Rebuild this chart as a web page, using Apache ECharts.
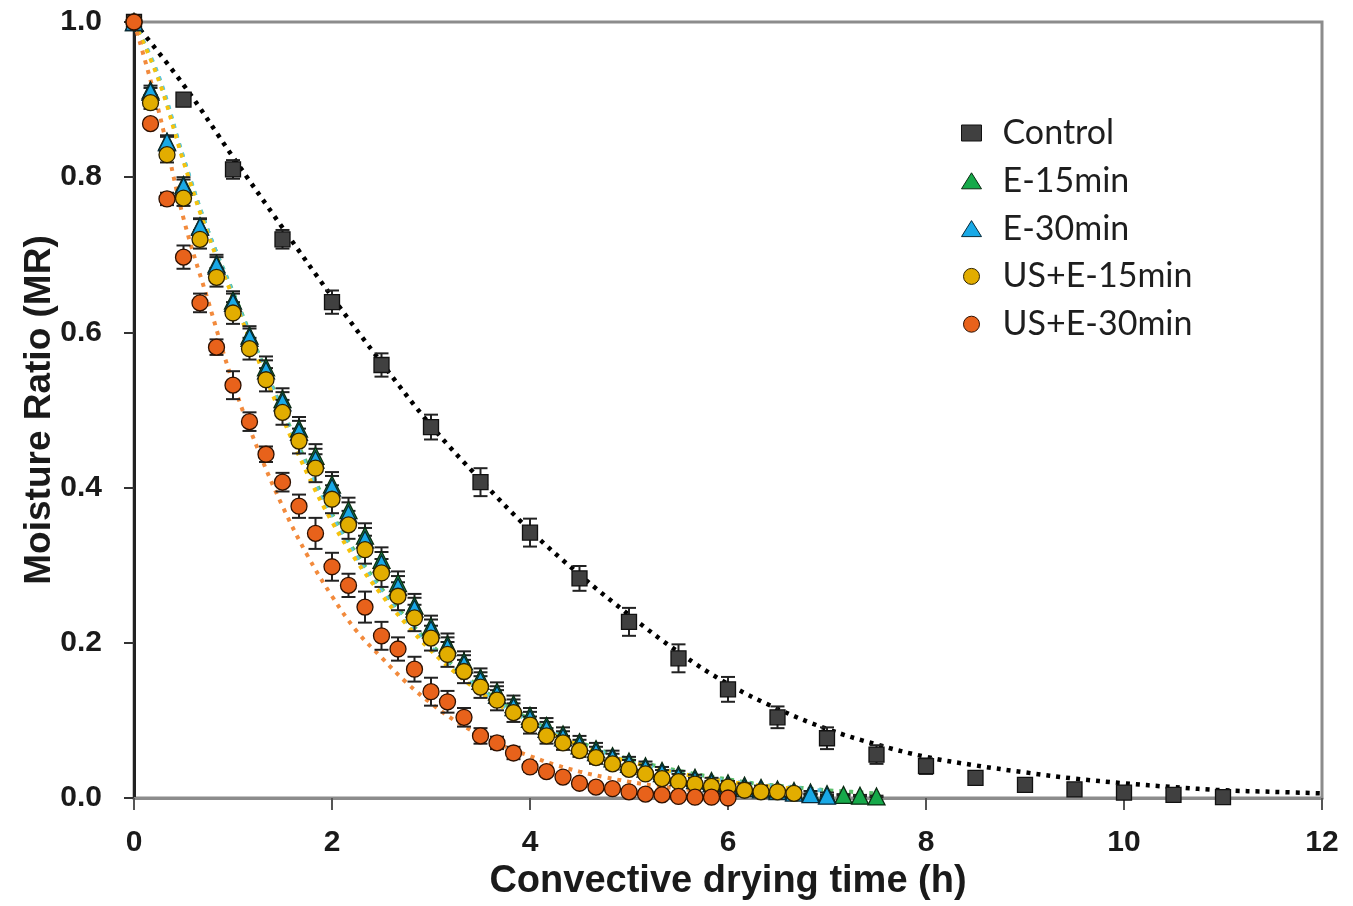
<!DOCTYPE html>
<html>
<head>
<meta charset="utf-8">
<script src="https://cdn.jsdelivr.net/npm/echarts@6/dist/echarts.min.js"></script>
<style>
html,body{margin:0;padding:0;background:#fff;}
#chart{width:1353px;height:906px;}
</style>
</head>
<body>
<div id="chart"></div>
<script>
// ---------- DATA ----------
const seriesNames = ['Control', 'E-15min', 'E-30min', 'US+E-15min', 'US+E-30min'];

// sampling schedule (minutes) for the pretreated samples
const sampleMinutes = [0,10,20,30,40,50,60,70,80,90,100,110,120,130,140,150,160,170,180,190,200,210,220,230,240,250,260,270,280,290,300,310,320,330,340,350,360,370,380,390,400,410,420,430,440,450];

// Control (hours, MR, error)
const controlTimes = [0,0.5,1,1.5,2,2.5,3,3.5,4,4.5,5,5.5,6,6.5,7,7.5,8,8.5,9,9.5,10,10.5,11];
const controlMR = [1.0,0.90,0.81,0.72,0.639,0.558,0.478,0.407,0.342,0.283,0.227,0.180,0.140,0.104,0.077,0.056,0.041,0.026,0.017,0.011,0.007,0.004,0.001];
const controlErr = [0,0.008,0.012,0.012,0.015,0.015,0.016,0.018,0.018,0.016,0.018,0.018,0.016,0.014,0.014,0.012,0.010,0.008,0.007,0.006,0.005,0.004,0.003];

const e15MR = [1.0,0.912,0.846,0.790,0.737,0.688,0.641,0.596,0.555,0.514,0.476,0.441,0.404,0.371,0.338,0.307,0.277,0.248,0.221,0.198,0.176,0.155,0.137,0.121,0.106,0.093,0.082,0.072,0.063,0.054,0.047,0.041,0.035,0.030,0.026,0.022,0.019,0.016,0.013,0.011,0.009,0.007,0.005,0.004,0.003,0.002];
const e15Err = [0,0.006,0.008,0.010,0.010,0.012,0.012,0.012,0.014,0.014,0.015,0.015,0.016,0.016,0.016,0.016,0.015,0.015,0.014,0.014,0.013,0.012,0.012,0.011,0.010,0.010,0.009,0.008,0.008,0.007,0.006,0.006,0.005,0.005,0.004,0.004,0.003,0.003,0.003,0.002,0.002,0.002,0.002,0.001,0.001,0.001];

const e30MR = [1.0,0.910,0.845,0.788,0.736,0.686,0.638,0.593,0.551,0.510,0.472,0.436,0.400,0.366,0.333,0.302,0.272,0.244,0.217,0.194,0.172,0.151,0.133,0.117,0.102,0.089,0.078,0.068,0.059,0.051,0.044,0.038,0.032,0.027,0.023,0.019,0.016,0.013,0.011,0.009,0.007,0.005,0.003];
const e30Err = [0,0.005,0.007,0.009,0.010,0.011,0.012,0.012,0.013,0.013,0.014,0.014,0.015,0.015,0.015,0.015,0.014,0.014,0.013,0.013,0.012,0.011,0.011,0.010,0.009,0.009,0.008,0.007,0.007,0.006,0.005,0.005,0.004,0.004,0.003,0.003,0.003,0.002,0.002,0.002,0.001,0.001,0.001];

const us15MR = [1.0,0.896,0.829,0.773,0.720,0.671,0.625,0.579,0.539,0.497,0.460,0.425,0.385,0.352,0.320,0.290,0.260,0.232,0.206,0.185,0.163,0.143,0.126,0.110,0.094,0.080,0.071,0.061,0.052,0.044,0.037,0.031,0.025,0.021,0.018,0.015,0.014,0.010,0.008,0.008,0.006];
const us15Err = [0,0.008,0.010,0.010,0.012,0.012,0.014,0.014,0.015,0.016,0.016,0.018,0.018,0.018,0.018,0.018,0.018,0.017,0.016,0.016,0.015,0.014,0.013,0.012,0.011,0.010,0.009,0.008,0.008,0.007,0.006,0.005,0.005,0.004,0.004,0.003,0.003,0.002,0.002,0.002,0.001];

const us30MR = [1.0,0.869,0.772,0.697,0.638,0.581,0.532,0.485,0.443,0.407,0.376,0.341,0.298,0.274,0.246,0.209,0.192,0.166,0.137,0.124,0.104,0.080,0.071,0.058,0.040,0.034,0.027,0.019,0.014,0.012,0.008,0.005,0.004,0.002,0.001,0.001,0.000];
const us30Err = [0,0.005,0.008,0.015,0.012,0.010,0.018,0.012,0.010,0.012,0.015,0.020,0.018,0.015,0.020,0.018,0.015,0.016,0.018,0.014,0.012,0.010,0.008,0.008,0.006,0.005,0.004,0.004,0.003,0.003,0.002,0.002,0.001,0.001,0.001,0.001,0];

// fitted model curves (dotted trend lines)
const controlFitTimes = [0,0.5,1,1.5,2,2.5,3,3.5,4,4.5,5,5.5,6,6.5,7,7.5,8,8.5,9,9.5,10,10.5,11,11.5,12];
const controlFit = [1.0,0.919,0.826,0.735,0.646,0.561,0.480,0.410,0.345,0.288,0.236,0.188,0.147,0.115,0.089,0.069,0.053,0.042,0.033,0.025,0.019,0.014,0.010,0.008,0.006];

const fitTimes = [0,0.25,0.5,0.75,1,1.25,1.5,1.75,2,2.25,2.5,2.75,3,3.25,3.5,3.75,4,4.25,4.5,4.75,5,5.25,5.5,5.75,6,6.25,6.5,6.75,7,7.25,7.5];
const e15Fit = [1.0,0.928,0.824,0.730,0.652,0.575,0.500,0.430,0.366,0.314,0.270,0.232,0.198,0.168,0.142,0.120,0.101,0.085,0.072,0.060,0.050,0.042,0.035,0.029,0.024,0.019,0.016,0.013,0.010,0.008,0.006];
const e30Fit = [1.0,0.930,0.825,0.730,0.650,0.572,0.497,0.425,0.362,0.310,0.266,0.228,0.194,0.165,0.139,0.117,0.099,0.083,0.070,0.058,0.048,0.040,0.033,0.027,0.022,0.018,0.015,0.012,0.009];
const us15Fit = [1.0,0.925,0.820,0.725,0.645,0.566,0.490,0.418,0.356,0.305,0.262,0.224,0.190,0.161,0.136,0.115,0.097,0.081,0.068,0.056,0.047,0.039,0.032,0.026,0.021,0.017,0.014,0.011];
const us30Fit = [1.0,0.885,0.747,0.640,0.535,0.450,0.376,0.313,0.260,0.215,0.181,0.149,0.122,0.099,0.081,0.066,0.054,0.043,0.034,0.027,0.021,0.016,0.012,0.009,0.007];

const xTicks = [0,2,4,6,8,10,12];
const yTicks = [0.0,0.2,0.4,0.6,0.8,1.0];

// ---------- BUILD ----------
const hrs = sampleMinutes.map(m => m / 60);
function pts(times, vals, errs) {
  return vals.map((v, i) => errs ? [times[i], v, errs[i]] : [times[i], v]);
}

const colors = {
  'Control': {fill:'#404040', border:'#111111', fit:'#000000'},
  'E-15min': {fill:'#16a94a', border:'#0b2a12', fit:'#5cbf6a'},
  'E-30min': {fill:'#19a9e6', border:'#082a3a', fit:'#5bc6e2'},
  'US+E-15min': {fill:'#e2ad00', border:'#2e2200', fit:'#f6c20c'},
  'US+E-30min': {fill:'#e8621b', border:'#2e1000', fit:'#f28a3c'}
};

function errSeries(name, data) {
  return {
    type: 'custom', name: name + ' err', data: data, z: 3, silent: true,
    clip: true,
    encode: {x: 0, y: 1},
    renderItem: function (params, api) {
      const x = api.value(0), y = api.value(1), e = api.value(2);
      if (!e) return null;
      const top = api.coord([x, y + e]);
      const bot = api.coord([x, y - e]);
      const hw = 7;
      const st = {stroke: '#222', lineWidth: 2};
      return {type: 'group', children: [
        {type: 'line', shape: {x1: top[0], y1: top[1], x2: bot[0], y2: bot[1]}, style: st},
        {type: 'line', shape: {x1: top[0]-hw, y1: top[1], x2: top[0]+hw, y2: top[1]}, style: st},
        {type: 'line', shape: {x1: bot[0]-hw, y1: bot[1], x2: bot[0]+hw, y2: bot[1]}, style: st}
      ]};
    }
  };
}
function fitSeries(name, times, vals, w) {
  return {
    type: 'line', name: name + ' fit', data: pts(times, vals), z: 2, silent: true,
    showSymbol: false, symbol: 'none', smooth: 0.4,
    lineStyle: {color: colors[name].fit, width: w || 4, type: [4, 6], cap: 'butt'}
  };
}
function scatterSeries(name, data, symbol, size) {
  return {
    type: 'scatter', name: name, data: data, symbol: symbol, symbolSize: size, z: 4,
    itemStyle: {color: colors[name].fill, borderColor: colors[name].border, borderWidth: 1.3, opacity: 1}
  };
}

const ctrlData = pts(controlTimes, controlMR, controlErr);
const e15Data = pts(hrs, e15MR, e15Err);
const e30Data = pts(hrs, e30MR, e30Err);
const us15Data = pts(hrs, us15MR, us15Err);
const us30Data = pts(hrs, us30MR, us30Err);

const series = [
  fitSeries('Control', controlFitTimes, controlFit, 4.5),
  fitSeries('E-15min', fitTimes, e15Fit),
  fitSeries('E-30min', fitTimes, e30Fit),
  fitSeries('US+E-15min', fitTimes, us15Fit),
  fitSeries('US+E-30min', fitTimes, us30Fit),
  errSeries('Control', ctrlData),
  errSeries('E-15min', e15Data),
  errSeries('E-30min', e30Data),
  errSeries('US+E-15min', us15Data),
  errSeries('US+E-30min', us30Data),
  scatterSeries('Control', ctrlData, 'rect', 15),
  scatterSeries('E-15min', e15Data, 'triangle', 17),
  scatterSeries('E-30min', e30Data, 'triangle', 17),
  scatterSeries('US+E-15min', us15Data, 'circle', 16),
  scatterSeries('US+E-30min', us30Data, 'circle', 16)
];

const chart = echarts.init(document.getElementById('chart'), null, {renderer: 'canvas'});
chart.setOption({
  animation: false,
  backgroundColor: '#ffffff',
  grid: {left: 134, right: 31, top: 22, bottom: 108, show: true, borderColor: '#8c8c8c', borderWidth: 3, backgroundColor: 'transparent'},
  legend: {
    data: seriesNames.map(n => ({name: n, itemStyle: {borderColor: colors[n].border, borderWidth: 1}})),
    orient: 'vertical', left: 956, top: 111,
    itemWidth: 20, itemHeight: 16, itemGap: 13.8,
    selectedMode: false,
    textStyle: {fontFamily: 'Lato', fontSize: 34, color: '#1e1e1e', padding: [0, 0, 0, 16]}
  },
  xAxis: {
    type: 'value', min: 0, max: 12, interval: 2,
    name: 'Convective drying time (h)', nameLocation: 'middle', nameGap: 65, nameMoveOverlap: false,
    nameTextStyle: {fontFamily: 'Liberation Sans', fontWeight: 'bold', fontSize: 38, color: '#1a1a1a'},
    axisLine: {show: true, onZero: false, lineStyle: {color: '#8c8c8c', width: 3}},
    axisTick: {show: true, length: 12, lineStyle: {color: '#555', width: 2}},
    axisLabel: {margin: 30, fontFamily: 'Liberation Sans', fontWeight: 'bold', fontSize: 30, color: '#1a1a1a',
      customValues: xTicks, formatter: v => String(v)},
    splitLine: {show: false}
  },
  yAxis: {
    type: 'value', min: 0, max: 1, interval: 0.2,
    name: 'Moisture Ratio (MR)', nameLocation: 'middle', nameGap: 76, nameRotate: 90, nameMoveOverlap: false,
    nameTextStyle: {fontFamily: 'Liberation Sans', fontWeight: 'bold', fontSize: 37, color: '#1a1a1a'},
    axisLine: {show: true, onZero: false, lineStyle: {color: '#222', width: 3}},
    axisTick: {show: true, length: 10, lineStyle: {color: '#333', width: 2}},
    axisLabel: {margin: 32, fontFamily: 'Liberation Sans', fontWeight: 'bold', fontSize: 30, color: '#1a1a1a',
      formatter: v => v.toFixed(1)},
    splitLine: {show: false}
  },
  series: series
});
</script>
</body>
</html>
